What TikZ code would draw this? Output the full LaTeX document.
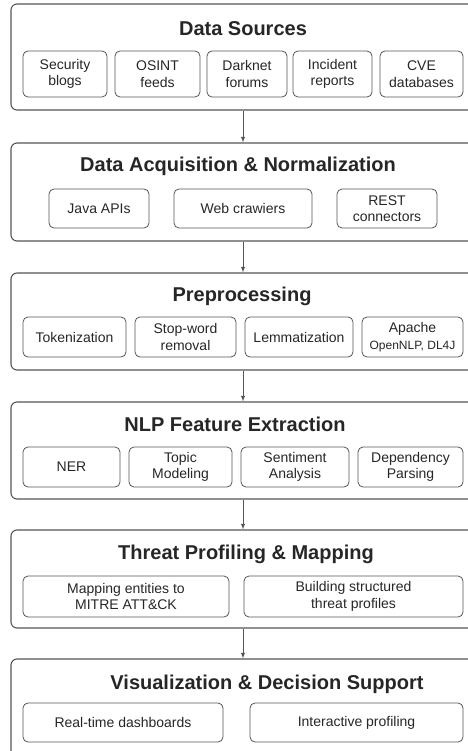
\documentclass[tikz,border=0pt]{standalone}
\usepackage{fontspec}
\setmainfont{Liberation Sans}
\usetikzlibrary{arrows}
\definecolor{edge}{HTML}{555555}
\definecolor{ink}{HTML}{262626}

\begin{document}
\begin{tikzpicture}[x=1pt,y=-1pt,
    stage/.style={draw=edge,line width=1.1pt,rounded corners=6pt,minimum width=464pt,inner sep=0pt},
    head/.style={anchor=base,font=\fontsize{20}{24}\selectfont\bfseries,text=ink,inner sep=0pt},
    item/.style={draw=edge,line width=0.8pt,rounded corners=5pt,align=center,inner sep=0pt,text=ink,font=\fontsize{14}{16.5}\selectfont},
    flow/.style={draw=edge,line width=0.9pt,-latex}]
            \useasboundingbox (0,0) rectangle (467,751);
            \node[stage,minimum height=106pt] (src) at (243,57) {};
            \node[head] (srcT) at (243,36) {Data Sources};
            \node[item,minimum width=84pt,minimum height=46pt] (blogs) at (65,74) {Security\\blogs};
            \node[item,minimum width=85pt,minimum height=46pt] (osint) at (157.5,74) {OSINT\\feeds};
            \node[item,minimum width=80pt,minimum height=46pt] (darknet) at (247,74) {Darknet\\forums};
            \node[item,minimum width=79pt,minimum height=46pt] (incident) at (332.5,74) {Incident\\reports};
            \node[item,minimum width=83pt,minimum height=46pt] (cve) at (421.5,74) {CVE\\databases};
            \node[stage,minimum height=98pt] (acq) at (243,192) {};
            \node[head] (acqT) at (238,171.5) {Data Acquisition \& Normalization};
            \node[item,minimum width=100pt,minimum height=39pt] (java) at (99,208.5) {Java APIs};
            \node[item,minimum width=138pt,minimum height=39pt] (crawl) at (243,208.5) {Web crawiers};
            \node[item,minimum width=100pt,minimum height=39pt] (rest) at (387,208.5) {REST\\connectors};
            \node[stage,minimum height=97pt] (pre) at (243,321.5) {};
            \node[head] (preT) at (242,301.5) {Preprocessing};
            \node[item,minimum width=103pt,minimum height=40pt] (tok) at (74.5,337) {Tokenization};
            \node[item,minimum width=101pt,minimum height=40pt] (stop) at (185.5,337) {Stop-word\\removal};
            \node[item,minimum width=108pt,minimum height=40pt] (lem) at (299,337) {Lemmatization};
            \node[item,minimum width=101pt,minimum height=40pt] (apache) at (412.5,337) {Apache\\{\fontsize{12}{14}\selectfont OpenNLP, DL4J}};
            \node[stage,minimum height=97pt] (nlp) at (243,450.5) {};
            \node[head] (nlpT) at (235,431.5) {NLP Feature Extraction};
            \node[item,minimum width=97pt,minimum height=40pt] (ner) at (71.5,467) {NER};
            \node[item,minimum width=103pt,minimum height=40pt] (topic) at (180.5,467) {Topic\\Modeling};
            \node[item,minimum width=108pt,minimum height=40pt] (senti) at (295,467) {Sentiment\\Analysis};
            \node[item,minimum width=105pt,minimum height=40pt] (dep) at (410.5,467) {Dependency\\Parsing};
            \node[stage,minimum height=98pt] (thr) at (243,579) {};
            \node[head] (thrT) at (246,559) {Threat Profiling \& Mapping};
            \node[item,minimum width=206pt,minimum height=41pt] (mitre) at (126,596.5) {Mapping entities to\\MITRE ATT\&CK};
            \node[item,minimum width=219pt,minimum height=41pt] (build) at (353.5,596.5) {Building structured\\threat profiles};
            \node[stage,minimum height=106pt] (vis) at (243,712) {};
            \node[head] (visT) at (267,689) {Visualization \& Decision Support};
            \node[item,minimum width=200pt,minimum height=39pt] (dash) at (123,722.5) {Real-time dashboards};
            \node[item,minimum width=213pt,minimum height=39pt] (inter) at (356.5,722.5) {Interactive profiling};
            \draw[flow] (src.south)--(acq.north);
            \draw[flow] (acq.south)--(pre.north);
            \draw[flow] (pre.south)--(nlp.north);
            \draw[flow] (nlp.south)--(thr.north);
            \draw[flow] (thr.south)--(vis.north);
        \end{tikzpicture}
\end{document}
